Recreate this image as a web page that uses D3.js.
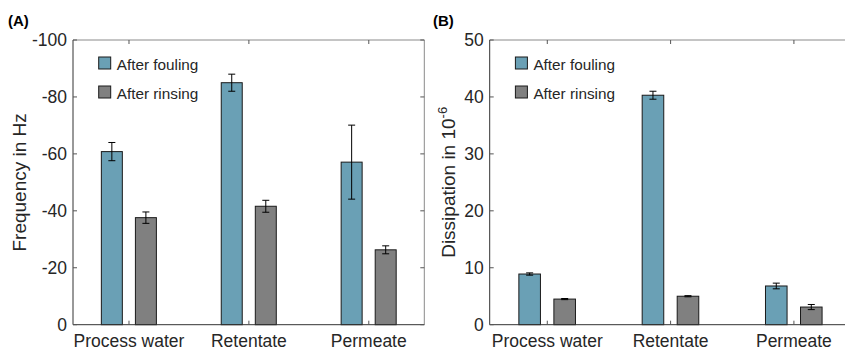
<!DOCTYPE html>
<html>
<head>
<meta charset="utf-8">
<script src="https://cdn.jsdelivr.net/npm/d3@7"></script>
<style>
  body { margin: 0; background: #fff; }
  svg { display: block; font-family: "Liberation Sans", Arial, sans-serif; }
</style>
</head>
<body>
<svg id="chart" width="845" height="351"></svg>
<script>
// Data
const categories = ["Process water", "Retentate", "Permeate"];
const seriesNames = ["After fouling", "After rinsing"];

const freqFouling = [-60.8, -85.0, -57.1];
const freqFoulingErr = [3.2, 3.0, 13.0];
const freqRinsing = [-37.6, -41.6, -26.3];
const freqRinsingErr = [2.0, 2.1, 1.4];
const freqTicks = [0, -20, -40, -60, -80, -100];

const dissFouling = [8.9, 40.3, 6.8];
const dissFoulingErr = [0.2, 0.7, 0.5];
const dissRinsing = [4.5, 5.0, 3.1];
const dissRinsingErr = [0.1, 0.1, 0.45];
const dissTicks = [0, 10, 20, 30, 40, 50];

const colors = ["#6aa0b5", "#808080"];
const textColor = "#262626";

const svg = d3.select("#chart");

function drawPanel(opts) {
    const g = svg.append("g");
    const top = 40, bottom = 324.7;

    const x = d3.scaleLinear()
        .domain([0.533, 3.463])
        .range([opts.left, opts.right]);
    const y = d3.scaleLinear()
        .domain(opts.yDomain)
        .range([bottom, top]);

    const offsets = [-0.143, 0.141];
    const barW = x(1.175) - x(1);

    // Bars + error bars for both series
    opts.series.forEach((s, si) => {
        const rows = categories.map((c, i) => ({ i, v: s.values[i], e: s.errors[i] }));

        g.append("g").selectAll("rect")
            .data(rows)
            .join("rect")
            .attr("x", d => x(d.i + 1 + offsets[si]) - barW / 2)
            .attr("width", barW)
            .attr("y", d => Math.min(y(d.v), y(0)))
            .attr("height", d => Math.abs(y(0) - y(d.v)))
            .attr("fill", colors[si])
            .attr("stroke", "#1a1a1a")
            .attr("stroke-width", 1);

        const eb = g.append("g")
            .attr("stroke", "#000")
            .attr("stroke-width", 1)
            .selectAll("g")
            .data(rows)
            .join("g");
        eb.append("line")
            .attr("x1", d => x(d.i + 1 + offsets[si]))
            .attr("x2", d => x(d.i + 1 + offsets[si]))
            .attr("y1", d => y(d.v - d.e))
            .attr("y2", d => y(d.v + d.e));
        [-1, 1].forEach(sign => {
            eb.append("line")
                .attr("x1", d => x(d.i + 1 + offsets[si]) - 3.5)
                .attr("x2", d => x(d.i + 1 + offsets[si]) + 3.5)
                .attr("y1", d => y(d.v + sign * d.e))
                .attr("y2", d => y(d.v + sign * d.e));
        });
    });

    // Box: top and right lighter, left and bottom darker
    g.append("line").attr("x1", opts.left).attr("x2", opts.right)
        .attr("y1", top).attr("y2", top).attr("stroke", "#8a8a8a");
    g.append("line").attr("x1", opts.right).attr("x2", opts.right)
        .attr("y1", top).attr("y2", bottom).attr("stroke", "#8a8a8a");
    g.append("line").attr("x1", opts.left).attr("x2", opts.left)
        .attr("y1", top).attr("y2", bottom).attr("stroke", "#333");
    g.append("line").attr("x1", opts.left).attr("x2", opts.right)
        .attr("y1", bottom).attr("y2", bottom).attr("stroke", "#333");

    // Inward ticks
    const tk = 4;
    const ticks = g.append("g").attr("stroke", "#555").attr("stroke-width", 1);
    opts.yTicks.forEach(t => {
        ticks.append("line").attr("x1", opts.left).attr("x2", opts.left + tk)
            .attr("y1", y(t)).attr("y2", y(t));
        ticks.append("line").attr("x1", opts.right).attr("x2", opts.right - tk)
            .attr("y1", y(t)).attr("y2", y(t));
    });
    categories.forEach((c, i) => {
        ticks.append("line").attr("x1", x(i + 1)).attr("x2", x(i + 1))
            .attr("y1", bottom).attr("y2", bottom - tk);
        ticks.append("line").attr("x1", x(i + 1)).attr("x2", x(i + 1))
            .attr("y1", top).attr("y2", top + tk);
    });

    // Tick labels
    g.append("g").selectAll("text")
        .data(opts.yTicks)
        .join("text")
        .attr("x", opts.left - 6)
        .attr("y", d => y(d))
        .attr("dy", "0.36em")
        .attr("text-anchor", "end")
        .attr("font-size", 17.5)
        .attr("fill", textColor)
        .text(d => String(d));

    g.append("g").selectAll("text")
        .data(categories)
        .join("text")
        .attr("x", (d, i) => x(i + 1))
        .attr("y", 346.5)
        .attr("text-anchor", "middle")
        .attr("font-size", 17.5)
        .attr("fill", textColor)
        .text(d => d);

    // Y axis label
    const yl = g.append("text")
        .attr("transform", `translate(${opts.labelX},${(top + bottom) / 2}) rotate(-90)`)
        .attr("text-anchor", "middle")
        .attr("font-size", 19)
        .attr("fill", textColor);
    yl.append("tspan").text(opts.yLabel);
    if (opts.yLabelSup) {
        yl.append("tspan").attr("dy", -8).attr("font-size", 13).text(opts.yLabelSup);
    }

    // Legend
    const lg = g.append("g").attr("transform", `translate(${opts.left + 25.7},57)`);
    seriesNames.forEach((n, i) => {
        lg.append("rect")
            .attr("x", 0).attr("y", i * 29)
            .attr("width", 12).attr("height", 12)
            .attr("fill", colors[i])
            .attr("stroke", "#1a1a1a");
        lg.append("text")
            .attr("x", 18).attr("y", i * 29 + 12.5)
            .attr("font-size", 15.3)
            .attr("fill", textColor)
            .text(n);
    });

    // Panel tag
    g.append("text")
        .attr("x", opts.tagX).attr("y", 26)
        .attr("font-size", 15)
        .attr("font-weight", "bold")
        .attr("fill", "#000")
        .text(opts.tag);
}

drawPanel({
    left: 73, right: 424.3,
    yDomain: [0, -100], yTicks: freqTicks,
    series: [
        { values: freqFouling, errors: freqFoulingErr },
        { values: freqRinsing, errors: freqRinsingErr }
    ],
    yLabel: "Frequency in Hz", labelX: 26,
    tag: "(A)", tagX: 8
});

drawPanel({
    left: 489.7, right: 851,
    yDomain: [0, 50], yTicks: dissTicks,
    series: [
        { values: dissFouling, errors: dissFoulingErr },
        { values: dissRinsing, errors: dissRinsingErr }
    ],
    yLabel: "Dissipation in 10", yLabelSup: "-6", labelX: 455,
    tag: "(B)", tagX: 433
});
</script>
</body>
</html>
